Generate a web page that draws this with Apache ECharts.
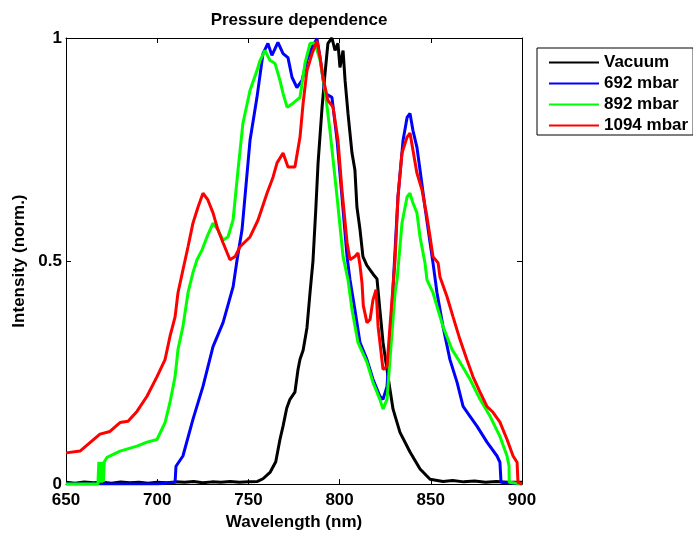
<!DOCTYPE html>
<html>
<head>
<meta charset="utf-8">
<script src="https://cdn.jsdelivr.net/npm/echarts@6/dist/echarts.min.js"></script>
<style>html,body{margin:0;padding:0;background:#fff}#c{width:693px;height:536px}</style>
</head>
<body>
<div id="c"></div>
<script>
const seriesNames = ['Vacuum', '692 mbar', '892 mbar', '1094 mbar'];
const seriesColors = ['#000000', '#0000ff', '#00ff00', '#ff0000'];

const vacuumX = [650,655,660,665,670,675,680,685,690,695,700,705,710,715,720,725,730,735,740,745,750,755,758,762,765,767.3,769,771,772.8,775.5,777.2,778.3,780,782.1,783.8,785.4,787,788.2,790.4,792,793.6,795.8,797.5,799.1,800.2,801.9,803,804.6,806.8,808.4,809.5,811.2,812.8,815,816.7,818.5,820.5,822.1,823.8,826.5,829.3,833.1,838.6,844.1,849.6,856.7,862,868,874,880,886,892,900];
const vacuumY = [0.004,0.002,0.005,0.003,0.004,0.002,0.005,0.003,0.004,0.002,0.004,0.003,0.005,0.004,0.006,0.003,0.005,0.004,0.006,0.004,0.005,0.006,0.012,0.027,0.05,0.1,0.13,0.17,0.19,0.206,0.257,0.28,0.3,0.35,0.43,0.5,0.62,0.72,0.845,0.92,0.988,1.0,0.972,0.988,0.934,0.972,0.905,0.831,0.742,0.704,0.621,0.57,0.51,0.49,0.48,0.47,0.46,0.39,0.318,0.242,0.168,0.116,0.072,0.034,0.011,0.006,0.008,0.005,0.007,0.004,0.006,0.004,0.004];

const mbar692X = [650,700,709.8,710.3,714.1,719.6,725.1,730.6,736.1,741.6,743.8,746.5,750.9,754.7,758,760.7,762.9,766.2,769,771.7,773.9,776.6,779.4,782.1,784.9,787.6,789.3,792,795.8,798.6,801.3,804.1,805.7,808.4,811.2,815,818.3,822.1,823.8,826,827.6,829.3,832,834.8,837,838.6,840.2,842.4,844.1,846.8,849.6,851.2,853.4,856.7,860.5,864.4,867.7,871.5,875.3,880.8,886.3,887.9,888.5,900];
const mbar692Y = [0,0,0.004,0.04,0.063,0.145,0.219,0.308,0.362,0.442,0.503,0.57,0.771,0.867,0.965,0.988,0.961,0.99,0.965,0.956,0.912,0.889,0.905,0.95,0.979,0.999,0.956,0.876,0.867,0.771,0.644,0.51,0.458,0.391,0.317,0.279,0.235,0.197,0.19,0.219,0.317,0.44,0.644,0.771,0.822,0.831,0.793,0.755,0.704,0.621,0.541,0.496,0.429,0.353,0.279,0.228,0.174,0.152,0.13,0.094,0.063,0.049,0.004,0];

const mbar892X = [650,667.5,668,668.5,669,669.5,670,670.5,671,672.5,679.6,688.9,694.4,699.9,704.3,707,709.8,711.4,714.1,716.9,719.6,721.8,724.6,727.3,730.6,733.3,736.1,738.8,741.6,744.3,747,750.9,754.7,756.4,759.1,761.8,764.6,767.3,769,771.2,774.5,778.3,781,783.8,786.5,789.3,792,794.7,798.6,801.9,804.6,806.8,810.1,815,818.3,822.1,823.8,826,827.6,830.4,831.5,834.2,837,838.6,840.2,842.4,844.1,846.8,847.9,851.2,856.7,861.6,866,871.5,877,882.5,887.9,891.8,892.9,893,900];
const mbar892Y = [0,0,0.05,0.003,0.05,0.003,0.05,0.005,0.05,0.06,0.074,0.085,0.094,0.1,0.138,0.183,0.241,0.302,0.353,0.429,0.474,0.503,0.525,0.554,0.585,0.57,0.547,0.554,0.592,0.704,0.809,0.883,0.927,0.95,0.972,0.95,0.943,0.905,0.876,0.845,0.854,0.867,0.943,0.988,0.988,0.95,0.883,0.793,0.644,0.51,0.458,0.391,0.317,0.273,0.228,0.19,0.168,0.19,0.279,0.429,0.458,0.585,0.644,0.652,0.63,0.608,0.554,0.496,0.458,0.429,0.353,0.302,0.273,0.235,0.19,0.152,0.107,0.063,0.04,0.004,0];

const mbar1094X = [650,651,657.7,668.6,674.1,679.6,684,688.9,694.4,699.9,704.3,707,709.8,711.4,714.1,716.9,719.6,722.4,725.1,727.8,730.6,733.3,736.1,739.9,742.7,745.4,750.9,755.3,760.2,763.5,765.7,769,771.7,775.5,778.3,780,782.1,784.9,787.6,789.3,790.9,793.6,796.4,799.1,801.3,804.1,805.7,808.4,810.1,811.2,812.3,813,815,816.7,818.3,820,821.1,823.8,826,827.6,830.4,832,834.2,837,838.6,840.2,842.4,845.2,847.9,849.6,851.2,854,855,858.9,862.2,866,869.8,873.1,877,880.8,884.1,887.9,891.8,895.1,897.3,897.8,900];
const mbar1094Y = [0.07,0.067,0.074,0.112,0.118,0.138,0.141,0.163,0.197,0.241,0.279,0.331,0.375,0.429,0.48,0.532,0.585,0.621,0.652,0.637,0.608,0.57,0.541,0.503,0.51,0.532,0.554,0.592,0.652,0.688,0.72,0.742,0.711,0.711,0.778,0.854,0.927,0.965,0.994,0.956,0.912,0.86,0.845,0.771,0.659,0.541,0.503,0.51,0.518,0.49,0.45,0.40,0.362,0.369,0.413,0.436,0.353,0.257,0.264,0.353,0.503,0.644,0.742,0.778,0.787,0.749,0.697,0.659,0.599,0.554,0.51,0.496,0.465,0.42,0.375,0.324,0.279,0.241,0.206,0.174,0.161,0.139,0.1,0.063,0.049,0.004,0];

const xTicks = { min: 650, max: 900, interval: 50 };
const yTicks = { min: 0, max: 1, interval: 0.5 };

const allX = [vacuumX, mbar692X, mbar892X, mbar1094X];
const allY = [vacuumY, mbar692Y, mbar892Y, mbar1094Y];

const FONT = 'Liberation Sans, Arial, Helvetica, sans-serif';
const FS = 17;
const chart = echarts.init(document.getElementById('c'), null, { renderer: 'canvas' });

const axisCommon = {
  axisLine: { show: true, onZero: false, lineStyle: { color: '#000', width: 1 } },
  axisTick: { show: true, inside: true, length: 5, lineStyle: { color: '#000' } },
  splitLine: { show: false }
};

chart.setOption({
  animation: false,
  backgroundColor: '#fff',
  title: {
    text: 'Pressure dependence',
    left: 294, top: 7, textAlign: 'center',
    textStyle: { fontFamily: FONT, fontWeight: 'bold', fontSize: FS, color: '#000' }
  },
  grid: { left: 66, top: 38, width: 456, height: 447, containLabel: false },
  legend: {
    orient: 'vertical',
    left: 537, top: 48,
    padding: [6, 5, 1, 11],
    itemWidth: 50, itemHeight: 14, itemGap: 4,
    borderColor: '#000', borderWidth: 1, backgroundColor: '#fff',
    itemStyle: { opacity: 0 },
    textStyle: { fontFamily: FONT, fontWeight: 'bold', fontSize: FS, color: '#000', width: 84 },
    data: seriesNames
  },
  xAxis: [
    Object.assign({
      type: 'value', position: 'bottom', min: xTicks.min, max: xTicks.max, interval: xTicks.interval,
      name: 'Wavelength (nm)', nameLocation: 'middle', nameGap: 28,
      nameTextStyle: { fontFamily: FONT, fontWeight: 'bold', fontSize: FS, color: '#000' },
      axisLabel: { margin: 8, fontFamily: FONT, fontWeight: 'bold', fontSize: FS, color: '#000' }
    }, axisCommon),
    Object.assign({
      type: 'value', position: 'top', min: xTicks.min, max: xTicks.max, interval: xTicks.interval,
      axisLabel: { show: false }
    }, axisCommon)
  ],
  yAxis: [
    Object.assign({
      type: 'value', position: 'left', min: yTicks.min, max: yTicks.max, interval: yTicks.interval,
      name: 'Intensity (norm.)', nameLocation: 'middle', nameGap: 37,
      nameTextStyle: { fontFamily: FONT, fontWeight: 'bold', fontSize: FS, color: '#000' },
      axisLabel: { margin: 4, fontFamily: FONT, fontWeight: 'bold', fontSize: FS, color: '#000' }
    }, axisCommon),
    Object.assign({
      type: 'value', position: 'right', min: yTicks.min, max: yTicks.max, interval: yTicks.interval,
      axisLabel: { show: false }
    }, axisCommon)
  ],
  series: seriesNames.map((name, i) => ({
    name,
    type: 'line',
    xAxisIndex: 0, yAxisIndex: 0,
    symbol: 'none', showSymbol: false,
    smooth: false,
    lineStyle: { color: seriesColors[i], width: 3 },
    itemStyle: { color: seriesColors[i] },
    z: 2 + i,
    data: allX[i].map((x, j) => [x, allY[i][j]])
  }))
});
</script>
</body>
</html>
